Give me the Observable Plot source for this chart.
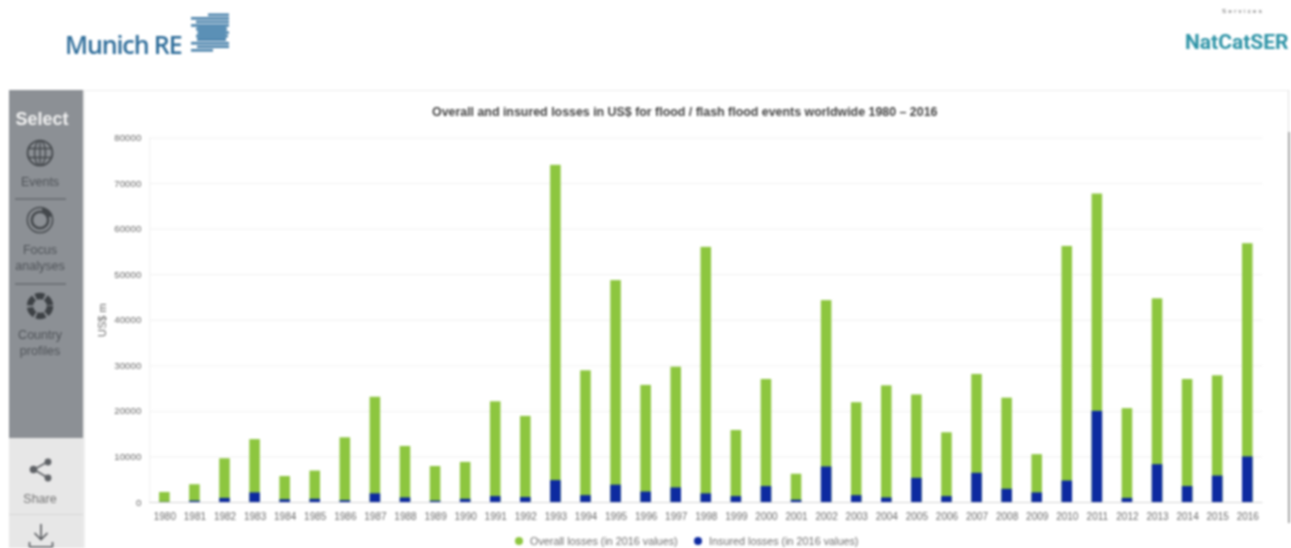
<!DOCTYPE html>
<html>
<head>
<meta charset="utf-8">
<script src="https://cdn.jsdelivr.net/npm/d3@7"></script>
<script src="https://cdn.jsdelivr.net/npm/@observablehq/plot@0.6"></script>
<style>
html,body{margin:0;padding:0;background:#fff;overflow:hidden;}
#page{position:relative;width:1291px;height:548px;overflow:hidden;font-family:"Liberation Sans",Arial,sans-serif;filter:blur(0.8px);}
#page>*{position:absolute;}
.side{left:3px;width:74px;text-align:center;color:#4f5358;font-size:12.5px;line-height:16px;}
.rule{left:15px;width:51px;height:2px;background:#6f7378;}
.leg{font:10.8px 'Liberation Sans',sans-serif;color:#6e6e6e;white-space:nowrap;top:535px;}
.dot{width:8px;height:8px;border-radius:50%;top:537px;}
#chart{left:0;top:0;}
#chart svg{display:block;}
</style>
</head>
<body>
<div id="page">
  <div style="left:9px;top:90px;width:1279px;height:1px;background:#eeeeee"></div>
  <div style="left:9px;top:90px;width:74px;height:348px;background:#8c9095"></div>
  <div style="left:9px;top:438px;width:74px;height:110px;background:#e7e7e7"></div>
  <div style="left:9px;top:514px;width:74px;height:1px;background:#d6d6d6"></div>
  <div style="left:83px;top:90px;width:2px;height:458px;background:#eeeeee"></div>
  <div style="left:1288px;top:90px;width:1px;height:42px;background:#e0e0e0"></div>
  <div style="left:1288px;top:132px;width:2px;height:391px;background:#a6a6a6"></div>

  <div id="chart"></div>

  <div style="left:65px;top:27px;font:600 25px 'Open Sans',sans-serif;letter-spacing:-1.1px;color:#2f6d9a;white-space:nowrap">Munich RE</div>
  <svg style="left:188px;top:12px" width="44" height="42" id="logo"></svg>
  <div style="left:1185px;top:30px;font:700 21px Roboto,sans-serif;color:#2d93a6;white-space:nowrap">NatCatSER</div>
  <div style="left:1222px;top:8px;font:6px 'Liberation Sans',sans-serif;letter-spacing:2.4px;color:#555;white-space:nowrap">Services</div>

  <div class="side" style="top:109px;font-size:18px;font-weight:700;color:#f1f1f1;line-height:20px;left:5px">Select</div>
  <svg style="left:26px;top:139px" width="28" height="28" viewBox="0 0 28 28" fill="none" stroke="#44484c" stroke-width="1.4">
    <circle cx="14" cy="14" r="12.4" stroke-width="1.8"/><ellipse cx="14" cy="14" rx="5.5" ry="12.4"/><path d="M14 1.5V26.5M2 9.5H26M2 18.5H26"/>
  </svg>
  <div class="side" style="top:174px">Events</div>
  <div class="rule" style="top:198px"></div>
  <svg style="left:26px;top:206px" width="28" height="28" viewBox="0 0 28 28" fill="none" stroke="#44484c">
    <circle cx="14" cy="14" r="12.6" stroke-width="1.5"/><circle cx="14" cy="14" r="8.2" stroke-width="2.6"/><path d="M16 1.8A12.5 12.5 0 0 1 26 10L21 12A8 8 0 0 0 16 6.5Z" fill="#44484c" stroke="none"/>
  </svg>
  <div class="side" style="top:242px">Focus<br>analyses</div>
  <div class="rule" style="top:283px"></div>
  <svg style="left:26px;top:292px" width="28" height="28" viewBox="0 0 28 28" fill="none" stroke="#3d4145">
    <circle cx="14" cy="14" r="10" stroke-width="6.4" stroke-dasharray="8.6 2"/>
  </svg>
  <div class="side" style="top:327px">Country<br>profiles</div>

  <svg style="left:29px;top:458px" width="24" height="24" viewBox="0 0 24 24" fill="#5f6266" stroke="#5f6266" stroke-width="1.6">
    <path d="M19 3.5L5 11.5L19 20" fill="none"/><circle cx="19" cy="4" r="2.6"/><circle cx="4.5" cy="11.5" r="3"/><circle cx="19" cy="20" r="2.6"/>
  </svg>
  <div class="side" style="top:491px;color:#747474">Share</div>
  <svg style="left:28px;top:522px" width="26" height="26" viewBox="0 0 26 26" fill="none" stroke="#55585c" stroke-width="1.6">
    <path d="M13 2V17M6.5 11L13 17.5L19.5 11M1.5 20V25M24.5 20V25M1.5 25H24.5"/>
  </svg>

  <div style="left:432px;top:105px;font:700 12.4px 'Liberation Sans',sans-serif;color:#444;white-space:nowrap">Overall and insured losses in US$ for flood / flash flood events worldwide 1980 – 2016</div>

  <div class="dot" style="left:515px;background:#8dc63f"></div>
  <div class="leg" style="left:530px">Overall losses (in 2016 values)</div>
  <div class="dot" style="left:694px;background:#0d2aa0"></div>
  <div class="leg" style="left:709px">Insured losses (in 2016 values)</div>
</div>
<script>
const years = [1980,1981,1982,1983,1984,1985,1986,1987,1988,1989,1990,1991,1992,1993,1994,1995,1996,1997,1998,1999,2000,2001,2002,2003,2004,2005,2006,2007,2008,2009,2010,2011,2012,2013,2014,2015,2016];
const overall = [2200,3900,9600,13800,5700,6900,14200,23100,12300,7900,8800,22100,18900,74000,28900,48700,25700,29700,56000,15800,27000,6200,44300,21900,25600,23600,15300,28100,22900,10500,56200,67700,20600,44700,27000,27800,56800];
const insured = [50,300,900,2100,600,700,400,1900,1000,300,700,1300,1100,4800,1500,3800,2300,3200,1900,1300,3500,500,7800,1500,1000,5300,1300,6400,2900,2100,4700,20000,900,8300,3500,5800,10000];
const yTicks = [0,10000,20000,30000,40000,50000,60000,70000,80000];
const rows = years.map((year, i) => ({year: String(year), overall: overall[i], insured: insured[i]}));

const plot = Plot.plot({
  width: 1291,
  height: 548,
  marginLeft: 149.3,
  marginRight: 28.7,
  marginTop: 137.5,
  marginBottom: 46,
  style: {background: "transparent", fontFamily: "'Liberation Sans',sans-serif", overflow: "visible"},
  x: {type: "band", domain: years.map(String), round: false, paddingInner: 0.65, paddingOuter: 0.325, label: null},
  y: {domain: [0, 80000], label: null},
  marks: [
    Plot.gridY(yTicks, {stroke: "#f1f1f1", strokeOpacity: 1}),
    Plot.frame({anchor: "left", stroke: "#f1f1f1"}),
    Plot.barY(rows, {x: "year", y: "overall", fill: "#8dc63f"}),
    Plot.barY(rows, {x: "year", y: "insured", fill: "#0d2aa0"}),
    Plot.ruleY([0], {stroke: "#d4d4d4"}),
    Plot.axisX({tickSize: 0, tickPadding: 10, fontSize: 10, color: "#6a6a6a", label: null}),
    Plot.axisY({ticks: yTicks, tickSize: 0, tickPadding: 8.5, fontSize: 9.7, color: "#6a6a6a", label: null, tickFormat: d => String(d)}),
    Plot.text(["US$ m"], {frameAnchor: "left", textAnchor: "middle", dx: -47, rotate: -90, fontSize: 11, fill: "#6a6a6a"})
  ]
});
document.getElementById("chart").appendChild(plot);

// Logo mark: stripes above and below a jagged solid body
const stripes = [[20,41],[3,41],[8,41],[3,41],[8,39],[10,41],[8,40],[9,38],[3,41],[9,41],[3,25]];
const logo = d3.select("#logo");
stripes.forEach((s, i) => logo.append("rect").attr("x", s[0]).attr("y", 1.5 + i*3.55).attr("width", s[1]-s[0]).attr("height", 2.6).attr("fill", "#4a82ab"));
logo.append("rect").attr("x", 9.5).attr("y", 12).attr("width", 28.5).attr("height", 15).attr("fill", "#5b90b6");
</script>
</body>
</html>
